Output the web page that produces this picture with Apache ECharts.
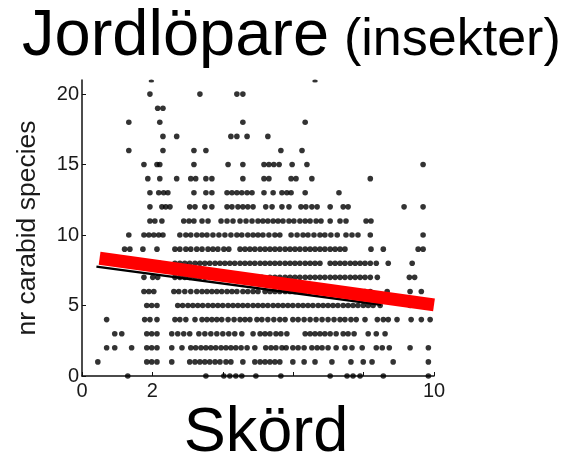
<!DOCTYPE html>
<html>
<head>
<meta charset="utf-8">
<script src="https://cdn.jsdelivr.net/npm/echarts@6/dist/echarts.min.js"></script>
<style>
  html, body { margin: 0; padding: 0; background: #fff; }
  #chart { width: 569px; height: 461px; }
</style>
</head>
<body>
<div id="chart"></div>
<script>
// Harvest (Skörd) of each site, one list per number of carabid species found
const n0  = [1.30, 3.52, 4.03, 4.20, 4.37, 4.54, 4.94, 5.65, 7.05, 7.53, 7.70, 7.90, 8.56, 9.84];
const n1  = [0.45, 1.84, 1.98, 2.13, 2.55, 3.06, 3.21, 3.35, 3.49, 3.63, 3.78, 3.92, 4.09, 4.23, 4.57, 4.91, 5.06, 5.20, 5.34, 5.48, 5.62, 5.99, 6.31, 6.62, 7.10, 7.64, 7.99, 8.24, 8.84, 9.84];
const n2  = [0.70, 0.93, 1.41, 1.84, 1.98, 2.13, 2.55, 2.84, 3.09, 3.23, 3.38, 3.52, 3.66, 3.80, 3.95, 4.09, 4.23, 4.37, 4.52, 4.69, 4.91, 5.22, 5.37, 5.51, 5.68, 5.80, 5.99, 6.14, 6.31, 6.53, 6.68, 6.82, 6.99, 7.22, 7.47, 7.67, 7.96, 8.36, 8.53, 8.73, 9.32, 9.84];
const n3  = [0.93, 1.13, 1.84, 1.98, 2.13, 2.55, 2.72, 2.89, 3.06, 3.32, 3.49, 3.66, 3.83, 4.00, 4.17, 4.34, 4.54, 4.86, 5.06, 5.20, 5.34, 5.51, 5.65, 5.82, 6.34, 6.48, 6.62, 6.76, 6.90, 7.05, 7.22, 7.42, 7.56, 7.73, 8.13, 8.36, 8.61];
const n4  = [0.70, 1.78, 1.93, 2.13, 2.64, 2.78, 2.95, 3.21, 3.41, 3.55, 3.69, 3.83, 3.97, 4.15, 4.32, 4.49, 4.63, 4.77, 4.97, 5.11, 5.28, 5.45, 5.62, 5.77, 5.99, 6.14, 6.31, 6.48, 6.65, 6.82, 6.99, 7.16, 7.33, 7.47, 7.64, 7.79, 8.04, 8.39, 8.56, 8.70, 8.95, 9.35, 9.64, 9.89];
const n5  = [1.84, 1.98, 2.13, 2.72, 2.86, 3.01, 3.15, 3.29, 3.43, 3.58, 3.72, 3.86, 4.00, 4.15, 4.29, 4.43, 4.57, 4.71, 4.86, 5.00, 5.14, 5.28, 5.43, 5.57, 5.71, 5.85, 5.99, 6.14, 6.28, 6.42, 6.56, 6.71, 6.85, 6.99, 7.13, 7.27, 7.42, 7.56, 7.70, 7.84, 7.99, 8.13, 8.27, 8.47, 9.32];
const n6  = [1.76, 1.90, 2.04, 2.61, 2.75, 2.92, 3.09, 3.26, 3.41, 3.55, 3.69, 3.83, 3.97, 4.12, 4.26, 4.40, 4.57, 4.71, 4.86, 5.00, 5.20, 5.34, 5.48, 5.62, 5.77, 5.91, 6.05, 6.19, 6.34, 6.48, 6.62, 6.76, 6.90, 7.05, 7.19, 7.33, 7.47, 7.62, 7.76, 7.90, 8.04, 8.19, 8.67, 9.32, 9.64];
const n7  = [1.76, 2.01, 2.15, 2.64, 2.78, 2.92, 3.06, 3.21, 3.35, 3.49, 3.63, 3.78, 3.92, 4.06, 4.20, 4.34, 4.49, 4.63, 4.77, 4.97, 5.11, 5.34, 5.48, 5.62, 5.77, 5.91, 6.05, 6.19, 6.34, 6.48, 6.62, 6.76, 6.90, 7.05, 7.19, 7.33, 7.47, 7.62, 7.76, 7.90, 8.04, 8.19, 8.39, 9.30, 9.45];
const n8  = [1.93, 2.07, 2.21, 2.64, 2.78, 2.92, 3.06, 3.21, 3.35, 3.49, 3.63, 3.78, 3.92, 4.06, 4.20, 4.34, 4.49, 4.63, 4.77, 4.91, 5.06, 5.20, 5.34, 5.48, 5.62, 5.77, 5.91, 6.05, 6.19, 6.34, 6.48, 6.62, 6.76, 7.05, 7.19, 7.33, 7.47, 7.62, 7.76, 7.90, 8.04, 8.19, 8.36, 8.70, 9.38];
const n9  = [1.21, 1.36, 1.73, 2.13, 2.64, 2.78, 2.95, 3.09, 3.26, 3.41, 3.58, 3.72, 3.86, 4.03, 4.17, 4.49, 4.63, 4.77, 4.91, 5.06, 5.20, 5.34, 5.48, 5.62, 5.77, 5.91, 6.05, 6.19, 6.34, 6.48, 6.62, 6.76, 6.90, 7.05, 7.19, 7.33, 7.47, 8.21, 8.56, 9.55, 9.69];
const n10 = [1.33, 1.76, 1.90, 2.04, 2.18, 2.30, 2.78, 2.95, 3.09, 3.26, 3.41, 3.55, 3.72, 3.89, 4.06, 4.23, 4.40, 4.54, 4.71, 4.86, 5.00, 5.14, 5.31, 5.48, 5.62, 5.94, 6.11, 6.28, 6.42, 6.59, 6.76, 6.90, 7.07, 7.25, 7.50, 7.67, 7.84, 8.19, 9.69];
const n11 = [1.93, 2.07, 2.27, 2.89, 3.04, 3.18, 3.41, 3.58, 3.95, 4.12, 4.29, 4.49, 4.66, 4.83, 5.00, 5.14, 5.28, 5.43, 5.57, 5.71, 5.88, 6.02, 6.19, 6.34, 6.48, 6.65, 6.79, 7.05, 7.33, 7.50, 8.07, 8.21];
const n12 = [1.93, 2.27, 2.38, 2.50, 3.06, 3.21, 3.49, 3.69, 4.12, 4.26, 4.43, 4.57, 4.71, 4.86, 5.22, 5.40, 5.68, 5.88, 6.22, 6.36, 6.53, 6.68, 7.05, 7.42, 7.56, 9.15, 9.69];
const n13 = [1.93, 2.18, 2.32, 2.44, 3.18, 3.52, 3.69, 4.12, 4.26, 4.40, 4.54, 4.69, 4.83, 5.17, 5.43, 5.68, 5.82, 5.94, 6.34, 7.30];
const n14 = [1.87, 2.21, 2.69, 3.09, 3.23, 3.52, 3.69, 4.57, 5.17, 5.31, 5.94, 6.08, 6.53, 8.19];
const n15 = [1.76, 2.13, 2.21, 3.18, 4.15, 4.57, 5.17, 5.31, 5.45, 5.60, 5.97, 6.39, 9.69];
const n16 = [1.33, 2.30, 3.18, 3.52, 5.65, 6.25];
const n17 = [2.30, 2.69, 4.23, 4.40, 4.69, 5.28];
const n18 = [1.33, 2.21, 4.57, 6.34];
const n19 = [2.15, 2.30];
const n20 = [1.93, 3.35, 4.40, 4.57];
const n21 = [1.97, 6.62];

// Fitted trends: [harvest, species]
const blackFit = [[0.41, 7.76], [8.50, 5.05]];
const redFit   = [[0.50, 8.35], [10.00, 5.05]];

// Axis ticks and labels
const xTickValues  = [0, 2, 4, 6, 8, 10];
const xLabelValues = [0, 2, 10];
const yTickValues  = [0, 5, 10, 15, 20];

const rowsInside = [n0, n1, n2, n3, n4, n5, n6, n7, n8, n9, n10, n11, n12, n13, n14, n15, n16, n17, n18, n19, n20];
const pointsInside = [];
rowsInside.forEach((xs, count) => xs.forEach(x => pointsInside.push([x, count])));
const pointsTop = n21.map(x => [x, 21]);

const FONT = '"Liberation Sans", Arial, Helvetica, sans-serif';
const INK = '#111';

const chart = echarts.init(document.getElementById('chart'), null, { renderer: 'canvas' });
chart.setOption({
  animation: false,
  backgroundColor: '#ffffff',
  grid: { left: 82, top: 80, width: 352, height: 296, containLabel: false },
  xAxis: {
    type: 'value', min: 0, max: 10, interval: 2,
    axisLine: { show: true, lineStyle: { color: INK, width: 1.5 } },
    axisTick: { show: true, inside: true, length: 4, customValues: xTickValues, lineStyle: { color: INK, width: 1 } },
    axisLabel: { customValues: xLabelValues, fontSize: 20, fontFamily: FONT, color: '#1a1a1a', margin: 5 },
    splitLine: { show: false }
  },
  yAxis: {
    type: 'value', min: 0, max: 21, interval: 5,
    name: 'nr carabid species', nameLocation: 'middle', nameGap: 41, nameRotate: 90,
    nameTextStyle: { fontSize: 26.5, fontFamily: FONT, color: '#1a1a1a' },
    axisLine: { show: true, lineStyle: { color: INK, width: 1.5 } },
    axisTick: { show: true, inside: true, length: 4, customValues: yTickValues, lineStyle: { color: INK, width: 1 } },
    axisLabel: { customValues: yTickValues, fontSize: 20, fontFamily: FONT, color: '#1a1a1a', margin: 3 },
    splitLine: { show: false }
  },
  series: [
    {
      type: 'scatter', data: pointsInside, symbol: 'circle', symbolSize: 5.6,
      itemStyle: { color: '#000' }, clip: false, z: 2
    },
    {
      // sites at the top edge are cut by the plot frame
      type: 'scatter', data: pointsTop, symbol: 'circle', symbolSize: [5.6, 3], symbolOffset: [0, 1],
      itemStyle: { color: '#000' }, clip: false, z: 2
    },
    {
      type: 'line', data: blackFit, showSymbol: false, symbol: 'none',
      lineStyle: { color: '#000', width: 2.5 }, z: 3
    },
    {
      type: 'line', data: redFit, showSymbol: false, symbol: 'none',
      lineStyle: { color: '#ff0000', width: 13, cap: 'butt' }, z: 4
    }
  ],
  graphic: [
    { type: 'text', x: 22, y: 5, style: { text: 'Jordlöpare', font: '65px ' + FONT, fill: '#000', verticalAlign: 'top' } },
    { type: 'text', x: 344, y: 15, style: { text: '(insekter)', font: '52px ' + FONT, fill: '#000', verticalAlign: 'top' } },
    { type: 'text', x: 266, y: 402, style: { text: 'Skörd', font: '63px ' + FONT, fill: '#000', align: 'center', verticalAlign: 'top' } }
  ]
});
</script>
</body>
</html>
